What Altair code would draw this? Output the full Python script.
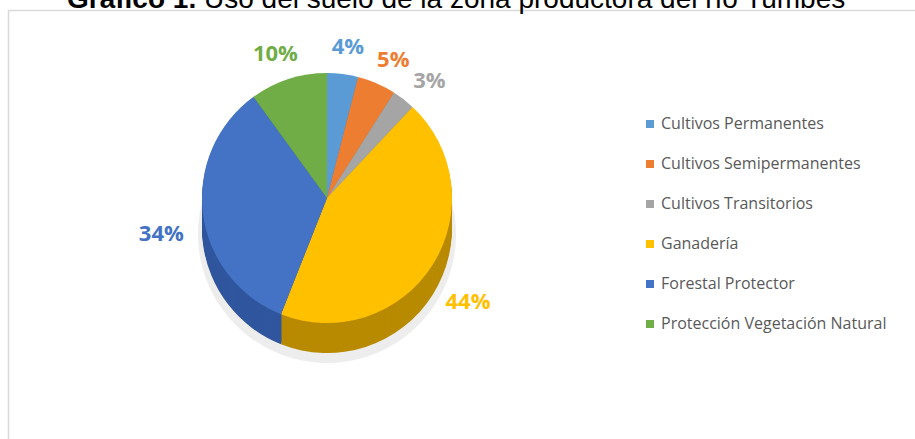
import altair as alt
import pandas as pd

# ---- data ----
categories = [
    "Cultivos Permanentes",
    "Cultivos Semipermanentes",
    "Cultivos Transitorios",
    "Ganadería",
    "Forestal Protector",
    "Protección Vegetación Natural",
]
values = [4, 5, 3, 44, 34, 10]
title_bold = "Gráfico 1."
title_rest = "Uso del suelo de la zona productora del río Tumbes"

# ---- styles ----
top_colors = ["#5B9BD5", "#ED7D31", "#A5A5A5", "#FFC000", "#4472C4", "#70AD47"]
side_colors = ["#3F7DB8", "#C4621C", "#858585", "#B88A00", "#30569E", "#528733"]

df = pd.DataFrame({
    "cat": categories,
    "val": values,
    "idx": list(range(len(categories))),
    "label": [f"{v}%" for v in values],
})

CX, CY, R, DEPTH = 327, 198, 125, 30

theta = alt.Theta("val:Q", stack=True)
order = alt.Order("idx:Q")

layers = []

# frame
frame = alt.Chart(pd.DataFrame({"a": [0]})).mark_rect(
    fill=None, stroke="#d9d9d9", strokeWidth=1.5
).encode(x=alt.value(8.5), x2=alt.value(1000), y=alt.value(10.5), y2=alt.value(1000))
layers.append(frame)

# soft shadow
shadow = alt.Chart(df).mark_arc(radius=R + 4, color="#ededed").encode(
    theta=theta, order=order, x=alt.value(CX), y=alt.value(CY + DEPTH + 6)
)
layers.append(shadow)

# side (extrusion)
for d in range(DEPTH, 0, -2):
    layers.append(
        alt.Chart(df).mark_arc(radius=R).encode(
            theta=theta,
            order=order,
            color=alt.Color("cat:N", scale=alt.Scale(domain=categories, range=side_colors), legend=None),
            x=alt.value(CX),
            y=alt.value(CY + d),
        )
    )

# top face
top = alt.Chart(df).mark_arc(radius=R).encode(
    theta=theta,
    order=order,
    color=alt.Color(
        "cat:N",
        scale=alt.Scale(domain=categories, range=top_colors),
        legend=alt.Legend(
            title=None,
            orient="none",
            legendX=642,
            legendY=116,
            symbolType="square",
            symbolSize=64,
            symbolStrokeWidth=0,
            labelFont="Open Sans",
            labelFontSize=16,
            labelColor="#595959",
            labelOffset=3,
            rowPadding=24,
            labelLimit=400,
        ),
    ),
    x=alt.value(CX),
    y=alt.value(CY),
)
layers.append(top)

# percentage labels
labels = alt.Chart(df).mark_text(
    radius=R + 42, font="Open Sans", fontWeight="bold", fontSize=22
).encode(
    theta=theta,
    order=order,
    text="label:N",
    color=alt.Color("cat:N", scale=alt.Scale(domain=categories, range=top_colors), legend=None),
    x=alt.value(CX),
    y=alt.value(CY + DEPTH / 2),
)
layers.append(labels)

# title (partly cut off at the top, as in the reference)
tdf = pd.DataFrame({"t1": [title_bold], "t2": [title_rest]})
t1 = alt.Chart(tdf).mark_text(
    font="Liberation Sans", fontSize=28, fontWeight="bold", align="left", baseline="alphabetic", color="#000000"
).encode(text="t1:N", x=alt.value(67), y=alt.value(8))
t2 = alt.Chart(tdf).mark_text(
    font="Liberation Sans", fontSize=28, align="left", baseline="alphabetic", color="#000000"
).encode(text="t2:N", x=alt.value(204), y=alt.value(8))
layers += [t1, t2]

chart = alt.layer(*layers).resolve_scale(color="independent").properties(
    width=915, height=439, padding=0, autosize="none"
).configure_view(stroke=None)

chart.save("out.html", embed_options={"renderer": "svg", "actions": False})
